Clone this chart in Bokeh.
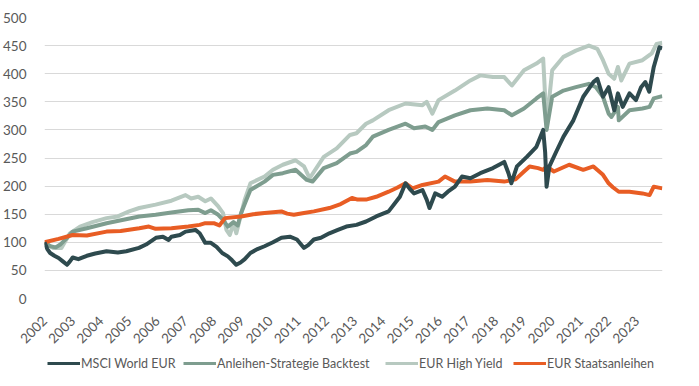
import math
from bokeh.plotting import figure
from bokeh.layouts import column
from bokeh.models import Range1d, FixedTicker, PrintfTickFormatter, Legend, LegendItem
from bokeh.embed import file_html
from bokeh.resources import INLINE

# ---- data ----
msci_x = [2002.0, 2002.1, 2002.2, 2002.35, 2002.5, 2002.65, 2002.8, 2002.9, 2003.0, 2003.2, 2003.5, 2003.8,
          2004.2, 2004.6, 2004.9, 2005.35, 2005.6, 2005.95, 2006.2, 2006.4, 2006.5, 2006.8, 2007.0, 2007.35,
          2007.5, 2007.7, 2007.9, 2008.1, 2008.3, 2008.5, 2008.65, 2008.8, 2008.95, 2009.1, 2009.3, 2009.55,
          2009.8, 2010.1, 2010.4, 2010.7, 2010.95, 2011.2, 2011.35, 2011.55, 2011.8, 2012.1, 2012.4, 2012.7,
          2013.06, 2013.4, 2013.76, 2014.2, 2014.6, 2014.8, 2014.95, 2015.1, 2015.4, 2015.55, 2015.65, 2015.85,
          2016.1, 2016.3, 2016.55, 2016.8, 2017.1, 2017.45, 2017.9, 2018.3, 2018.45, 2018.55, 2018.75, 2019.1,
          2019.44, 2019.68, 2019.75, 2019.8, 2019.9, 2020.15, 2020.4, 2020.75, 2021.1, 2021.46, 2021.6, 2021.8,
          2022.0, 2022.2, 2022.33, 2022.5, 2022.74, 2022.97, 2023.15, 2023.3, 2023.44, 2023.6, 2023.8, 2023.9]
msci_y = [100, 88, 81, 76, 72, 66, 60, 66, 73, 70, 76, 80,
          84, 82, 84, 90, 96, 108, 110, 104, 110, 113, 119, 122,
          116, 99, 99, 92, 81, 75, 68, 60, 64, 70, 81, 88,
          93, 100, 108, 110, 105, 90, 95, 105, 108, 116, 122, 128,
          131, 137, 146, 155, 181, 205, 195, 187, 193, 176, 161, 187,
          181, 190, 199, 217, 214, 223, 232, 243, 223, 205, 235, 252,
          270, 300, 260, 199, 235, 262, 288, 317, 359, 385, 391, 359,
          376, 335, 365, 341, 365, 353, 376, 385, 368, 412, 447, 445]

back_x = [2002.0, 2002.2, 2002.4, 2002.56, 2002.8, 2003.0, 2003.5, 2004.2, 2004.8, 2005.36, 2005.94, 2006.5,
          2007.1, 2007.45, 2007.7, 2007.9, 2008.16, 2008.33, 2008.5, 2008.7, 2008.85, 2008.97, 2009.15, 2009.3,
          2009.8, 2010.1, 2010.45, 2010.9, 2011.3, 2011.5, 2011.9, 2012.36, 2012.83, 2013.06, 2013.4, 2013.64,
          2014.2, 2014.8, 2015.1, 2015.5, 2015.75, 2015.97, 2016.55, 2017.1, 2017.7, 2018.3, 2018.57, 2019.0,
          2019.44, 2019.68, 2019.8, 2020.0, 2020.4, 2020.84, 2021.3, 2021.55, 2021.8, 2022.0, 2022.1, 2022.33,
          2022.36, 2022.74, 2023.2, 2023.45, 2023.6, 2023.9]
back_y = [100, 93, 91, 96, 108, 119, 125, 134, 140, 146, 149, 153,
          157, 158, 152, 157, 149, 140, 128, 136, 130, 152, 175, 193,
          208, 220, 223, 229, 211, 208, 232, 241, 258, 261, 273, 288,
          300, 311, 303, 306, 300, 314, 326, 335, 338, 335, 326, 338,
          356, 365, 300, 359, 370, 376, 382, 376, 359, 329, 323, 341,
          317, 335, 338, 341, 356, 360]

hy_x = [2002.0, 2002.15, 2002.3, 2002.6, 2002.9, 2003.26, 2003.7, 2004.2, 2004.6, 2005.0, 2005.36, 2005.94,
        2006.5, 2007.0, 2007.2, 2007.45, 2007.7, 2007.9, 2008.16, 2008.33, 2008.45, 2008.57, 2008.7, 2008.8,
        2008.92, 2009.1, 2009.3, 2009.8, 2010.1, 2010.45, 2010.9, 2011.2, 2011.4, 2011.9, 2012.36, 2012.83,
        2013.06, 2013.4, 2013.64, 2014.2, 2014.8, 2015.4, 2015.55, 2015.75, 2015.97, 2016.55, 2017.1, 2017.45,
        2017.9, 2018.3, 2018.57, 2019.0, 2019.44, 2019.68, 2019.8, 2020.0, 2020.4, 2020.84, 2021.3, 2021.6,
        2021.8, 2022.0, 2022.2, 2022.33, 2022.45, 2022.74, 2023.2, 2023.53, 2023.7, 2023.9]
hy_y = [100, 95, 90, 90, 116, 128, 136, 143, 146, 155, 161, 167,
        174, 184, 178, 181, 173, 178, 164, 152, 122, 113, 134, 116,
        140, 176, 205, 217, 229, 238, 246, 235, 214, 252, 267, 291,
        294, 311, 317, 335, 347, 344, 350, 329, 353, 370, 388, 397,
        394, 394, 379, 406, 418, 427, 310, 406, 430, 441, 450, 444,
        424, 400, 391, 412, 388, 418, 424, 436, 453, 455]

gov_x = [2002.0, 2002.5, 2003.0, 2003.5, 2004.2, 2004.7, 2005.36, 2005.7, 2005.94, 2006.5, 2007.1, 2007.5,
         2007.7, 2008.0, 2008.2, 2008.4, 2008.97, 2009.4, 2009.8, 2010.4, 2010.6, 2010.84, 2011.2, 2011.55,
         2012.1, 2012.5, 2012.9, 2013.1, 2013.4, 2013.76, 2014.2, 2014.5, 2014.8, 2015.05, 2015.4, 2015.97,
         2016.2, 2016.55, 2017.1, 2017.7, 2018.3, 2018.7, 2019.0, 2019.2, 2019.5, 2019.68, 2019.8, 2020.06,
         2020.6, 2021.1, 2021.46, 2021.8, 2022.0, 2022.15, 2022.36, 2022.74, 2023.2, 2023.45, 2023.6, 2023.9]
gov_y = [100, 106, 113, 112, 119, 120, 125, 128, 124, 125, 128, 131,
         134, 134, 130, 143, 146, 150, 152, 155, 151, 149, 152, 155,
         161, 168, 179, 176, 176, 181, 190, 197, 205, 196, 202, 208,
         217, 208, 208, 211, 208, 212, 226, 235, 232, 229, 235, 226,
         238, 229, 235, 220, 205, 198, 190, 190, 187, 184, 199, 196]

years = list(range(2002, 2024))
y_ticks = [0, 50, 100, 150, 200, 250, 300, 350, 400, 450, 500]
names = ["MSCI World EUR", "Anleihen-Strategie Backtest", "EUR High Yield", "EUR Staatsanleihen"]
colors = ["#2E4A4E", "#7E9D8F", "#B7C9C0", "#E85D24"]

FONT = "Lato"
TXT = "#595959"
GRID = "#D9D9D9"

# ---- main chart ----
p = figure(width=683, height=350, output_backend="svg", toolbar_location=None,
           x_range=Range1d(2002, 2023.91), y_range=Range1d(0, 500),
           min_border_left=36, min_border_right=21, min_border_top=17, min_border_bottom=51)
p.outline_line_color = None
p.background_fill_color = "white"
p.border_fill_color = "white"

p.xgrid.grid_line_color = None
p.ygrid.grid_line_color = GRID
p.ygrid.grid_line_width = 1
p.yaxis.ticker = FixedTicker(ticks=y_ticks)
p.xaxis.ticker = FixedTicker(ticks=years)
p.xaxis.formatter = PrintfTickFormatter(format="%d")
p.xaxis.major_label_orientation = math.pi / 4
for ax in (p.xaxis, p.yaxis):
    ax.axis_line_color = None
    ax.major_tick_line_color = None
    ax.minor_tick_line_color = None
    ax.major_label_text_font = FONT
    ax.major_label_text_font_size = "13.5px"
    ax.major_label_text_color = TXT
p.yaxis.major_label_standoff = 12
p.xaxis.major_label_standoff = 14

series = [(msci_x, msci_y), (back_x, back_y), (hy_x, hy_y), (gov_x, gov_y)]
for i in [2, 1, 3, 0]:
    xs, ys = series[i]
    p.line(xs, ys, line_color=colors[i], line_width=4, line_join="round")

# ---- legend strip (its lines lie outside its view; only the legend shows) ----
lf = figure(width=683, height=28, output_backend="svg", toolbar_location=None,
            x_axis_type=None, y_axis_type=None, x_range=Range1d(0, 1), y_range=Range1d(0, 1),
            min_border_left=36, min_border_right=21, min_border_top=0, min_border_bottom=0)
lf.outline_line_color = None
lf.grid.grid_line_color = None
lf.border_fill_color = "white"

leg_x = [3, 139, 341, 469]
for i in range(4):
    xs, ys = series[i]
    r = lf.line(xs, ys, line_color=colors[i], line_width=3)
    lg = Legend(items=[LegendItem(label=names[i], renderers=[r])],
                location=(leg_x[i], 7), orientation="horizontal",
                glyph_width=33, glyph_height=16, label_standoff=1,
                padding=0, margin=0, spacing=0,
                border_line_color=None, background_fill_alpha=0,
                label_text_font=FONT, label_text_font_size="12.5px", label_text_color=TXT)
    lf.add_layout(lg)

layout = column(p, lf, spacing=0)
open("out.html", "w").write(file_html(layout, INLINE))
